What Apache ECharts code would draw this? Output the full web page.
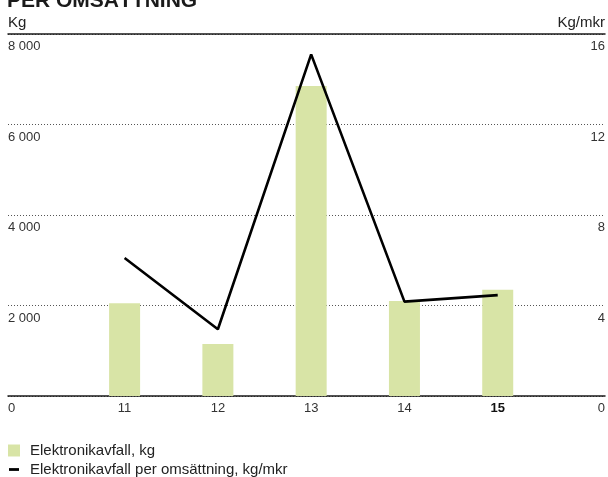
<!DOCTYPE html>
<html>
<head>
<meta charset="utf-8">
<script src="https://cdn.jsdelivr.net/npm/echarts@6/dist/echarts.min.js"></script>
<style>
  html, body { margin: 0; padding: 0; background: #fff; }
  #container { width: 608px; height: 477px; }
</style>
</head>
<body>
<div id="container"></div>
<script>
var dom = document.getElementById("container");
var myChart = echarts.init(dom);
var option;

// years on the x axis (15 is shown bold)
var years = [11, 12, 13, 14, 15];
// Elektronikavfall, kg (bars, left axis)
var kgValues = [2050, 1150, 6850, 2100, 2350];
// Elektronikavfall per omsättning, kg/mkr (line, right axis)
var perMkrValues = [6.1, 2.95, 15.1, 4.17, 4.46];

var barName = "Elektronikavfall, kg";
var lineName = "Elektronikavfall per omsättning, kg/mkr";

var fontFamily = "Liberation Sans, Arial, sans-serif";

function spaced(v) {
  return String(v).replace(/\B(?=(\d{3})+(?!\d))/g, " ");
}

// pair every value with its year so it can go on a value x axis
function pairs(values) {
  var out = [];
  for (var i = 0; i < years.length; i++) {
    out.push([years[i], values[i]]);
  }
  return out;
}

option = {
  animation: false,
  textStyle: { fontFamily: fontFamily },
  title: {
    text: "PER OMSÄTTNING",
    left: 7,
    top: -9,
    padding: 0,
    textStyle: { fontSize: 21, fontWeight: "bold", color: "#1a1a1a", fontFamily: fontFamily }
  },
  legend: [
    {
      data: [barName],
      left: 8,
      top: 443,
      padding: 0,
      itemWidth: 12,
      itemHeight: 12,
      icon: "rect",
      textStyle: { fontSize: 15, color: "#222", padding: [0, 0, 0, 5] }
    },
    {
      data: [lineName],
      left: 9,
      top: 462,
      padding: 0,
      itemWidth: 10,
      itemHeight: 2.8,
      icon: "rect",
      textStyle: { fontSize: 15, color: "#222", padding: [0, 0, 0, 6] }
    }
  ],
  grid: { left: 8, right: 3, top: 34, bottom: 81, containLabel: false },
  xAxis: [
    {
      type: "value",
      min: 9.75,
      max: 16.15,
      axisLine: { show: true, lineStyle: { color: "#1a1a1a", width: 1.5 } },
      axisTick: { show: false },
      splitLine: { show: false },
      axisLabel: {
        customValues: years,
        margin: 6,
        fontSize: 13,
        color: "#333",
        formatter: function (v) {
          return v === 15 ? "{b|15}" : String(v);
        },
        rich: { b: { fontWeight: "bold", fontSize: 13, color: "#111" } }
      }
    },
    {
      type: "value",
      position: "top",
      min: 9.75,
      max: 16.15,
      axisLine: { show: true, onZero: false, lineStyle: { color: "#1a1a1a", width: 1.5 } },
      axisTick: { show: false },
      axisLabel: { show: false },
      splitLine: { show: false }
    }
  ],
  yAxis: [
    {
      type: "value",
      min: 0,
      max: 8000,
      interval: 2000,
      name: "Kg",
      nameLocation: "end",
      nameGap: 4,
      nameTextStyle: { align: "left", verticalAlign: "bottom", fontSize: 15, color: "#222" },
      axisLine: { show: false },
      axisTick: { show: false },
      axisLabel: {
        inside: true,
        margin: 0,
        verticalAlign: "top",
        padding: [6, 0, 0, 0],
        fontSize: 13,
        color: "#333",
        formatter: spaced
      },
      splitLine: { show: true, lineStyle: { color: "#555", width: 1, type: [1, 2] } }
    },
    {
      type: "value",
      position: "right",
      min: 0,
      max: 16,
      interval: 4,
      name: "Kg/mkr",
      nameLocation: "end",
      nameGap: 4,
      nameTextStyle: { align: "right", verticalAlign: "bottom", fontSize: 15, color: "#222" },
      axisLine: { show: false },
      axisTick: { show: false },
      axisLabel: {
        inside: true,
        margin: 0,
        verticalAlign: "top",
        padding: [6, 0, 0, 0],
        fontSize: 13,
        color: "#333"
      },
      splitLine: { show: false }
    }
  ],
  series: [
    {
      name: barName,
      type: "bar",
      xAxisIndex: 0,
      yAxisIndex: 0,
      barWidth: 31,
      itemStyle: { color: "#d8e4a6" },
      data: pairs(kgValues)
    },
    {
      name: lineName,
      type: "line",
      xAxisIndex: 0,
      yAxisIndex: 1,
      symbol: "none",
      lineStyle: { color: "#000", width: 2.6 },
      itemStyle: { color: "#000" },
      data: pairs(perMkrValues)
    }
  ]
};

if (option && typeof option === "object") {
  myChart.setOption(option, true);
}
</script>
</body>
</html>
